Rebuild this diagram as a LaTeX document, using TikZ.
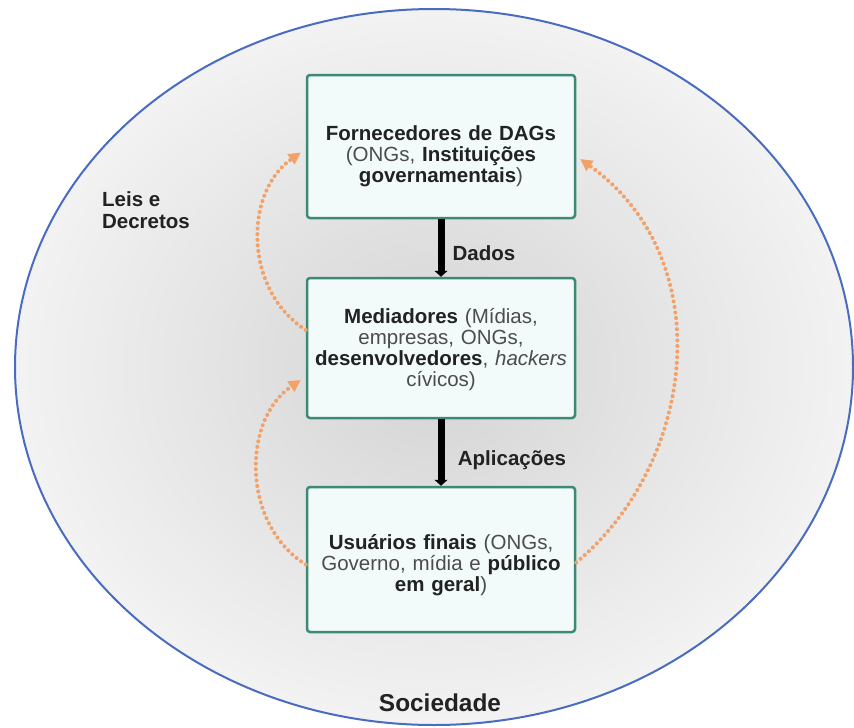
\documentclass[tikz,border=0pt]{standalone}
\usepackage{fontspec}
\setmainfont{Liberation Sans}
\usetikzlibrary{arrows.meta}

\definecolor{rim}{HTML}{4A6CC0}
\definecolor{boxline}{HTML}{3C8A74}
\definecolor{boxfill}{HTML}{F2FAFA}
\definecolor{loopcol}{HTML}{F2A268}
\definecolor{txtgray}{HTML}{4C4C4C}
\definecolor{txtdark}{HTML}{222222}

\newcommand{\hl}[1]{{\bfseries\color{txtdark}#1}}
% pushes the first line down a little
\newcommand{\lift}[1]{\rule{0pt}{#1}}

\begin{document}
\begin{tikzpicture}
    [
        x=1pt, y=-1pt,
        box/.style={draw=boxline, fill=boxfill, line width=2.5pt, rounded corners=3pt,
            minimum width=268pt, minimum height=143pt, inner sep=2pt, text width=262pt,
            align=center, font=\fontsize{20.5}{21}\selectfont, text=txtgray},
        flow/.style={-{Triangle[length=6pt,width=13pt]}, line width=7pt, draw=black},
        feedback/.style={-{Triangle[length=12pt,width=12pt,fill=loopcol]}, draw=loopcol,
            line width=4pt, line cap=round, dash pattern=on 0.1pt off 5.5pt},
        tag/.style={font=\fontsize{20.5}{22}\selectfont\bfseries, text=txtdark, align=left},
    ]

    \useasboundingbox (0,0) rectangle (854,728);

    % society
    \shade[inner color=black!17, outer color=black!5] (434,367) ellipse [x radius=419, y radius=358];
    \draw[rim, line width=2pt] (434,367) ellipse [x radius=419, y radius=358];

    % actors
    \node (forn) at (441,146.5) [box] {\lift{35pt}\hl{Fornecedores de DAGs}\\(ONGs, \hl{Instituições}\\\hl{governamentais})};
    \node (med)  at (441,348)   [box, minimum height=140pt] {\lift{19pt}\hl{Mediadores} (Mídias,\\empresas, ONGs,\\\hl{desenvolvedores}, \textit{hackers}\\cívicos)};
    \node (usr)  at (441,559.5) [box, minimum height=145pt] {\lift{27pt}\hl{Usuários finais} (ONGs,\\Governo, mídia e \hl{público}\\\hl{em geral})};

    \node (dados) at (484,253) [tag] {Dados};
    \node (apl)   at (512,460) [tag] {Aplicações};
    \node (leis)  at (146,210) [tag] {Leis e\\Decretos};
    \node (soc)   at (440,703) [tag, font=\fontsize{24.4}{26}\selectfont\bfseries] {Sociedade};

    \draw [flow] (forn) -- (med);
    \draw [flow] (med) -- (usr);

    \draw [feedback] ([yshift=18pt]med.west) .. controls +(-62,-40) and +(-57,40) .. ([xshift=-5pt,yshift=-6pt]forn.west);
    \draw [feedback] ([yshift=-5pt]usr.west) .. controls +(-64,-40) and +(-59,40) .. ([xshift=-5pt,yshift=-32pt]med.west);
    \draw [feedback] ([yshift=-3pt]usr.east) .. controls +(120,-100) and +(140,100) .. ([xshift=4pt,yshift=-6pt]forn.north east |- 0,153);

\end{tikzpicture}
\end{document}
